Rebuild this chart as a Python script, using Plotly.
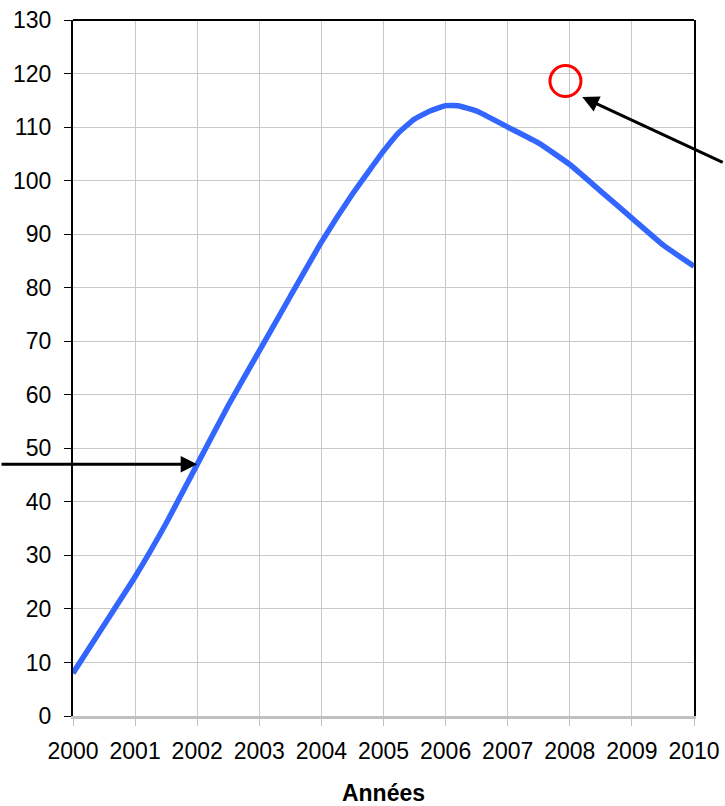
import plotly.graph_objects as go

years = [2000, 2000.5, 2001, 2001.5, 2002, 2002.5, 2003, 2003.5, 2004, 2004.5,
         2005, 2005.25, 2005.5, 2005.75, 2006, 2006.2, 2006.5, 2007, 2007.5,
         2008, 2008.5, 2009, 2009.5, 2010]
values = [8, 17, 26, 36, 47, 58, 68.2, 78.4, 88.5, 97.5,
          105.5, 109, 111.5, 113, 114, 114, 113, 110, 107,
          103, 98, 93, 88, 84]

circle_x = [2007.93]
circle_y = [118.6]

x_ticks = list(range(2000, 2011))
y_ticks = list(range(0, 131, 10))

fig = go.Figure()
fig.add_trace(go.Scatter(x=years, y=values, mode="lines",
                         line=dict(color="#3366ff", width=5.5, shape="spline", smoothing=0.4),
                         showlegend=False, hoverinfo="skip"))
fig.add_trace(go.Scatter(x=circle_x, y=circle_y, mode="markers",
                         marker=dict(size=31, color="rgba(0,0,0,0)",
                                     line=dict(color="#ff0000", width=3)),
                         showlegend=False, cliponaxis=False, hoverinfo="skip"))

fig.add_annotation(x=2002, y=47, ax=-198, ay=0, axref="pixel", ayref="pixel",
                   showarrow=True, arrowhead=2, arrowsize=1.1, arrowwidth=3,
                   arrowcolor="#000000", text="")
fig.add_annotation(x=2008.2, y=115.6, ax=142, ay=66, axref="pixel", ayref="pixel",
                   showarrow=True, arrowhead=2, arrowsize=1.1, arrowwidth=3,
                   arrowcolor="#000000", text="")

fig.add_shape(type="line", xref="paper", yref="paper", x0=0, x1=1, y0=1, y1=1,
              line=dict(color="#000000", width=2))

font = dict(family="Liberation Sans, Arial, sans-serif", size=23, color="#000000")

fig.update_layout(
    width=725, height=806,
    margin=dict(l=73, r=31, t=20, b=90),
    plot_bgcolor="#ffffff", paper_bgcolor="#ffffff",
    font=font,
    xaxis=dict(range=[2000, 2010], tickvals=x_ticks, ticktext=[str(t) for t in x_ticks],
               showgrid=True, gridcolor="#c8c8c8", gridwidth=1,
               showline=True, linecolor="#c0c0c0", linewidth=3,
               ticks="outside", ticklen=7, tickcolor="#c0c0c0", tickwidth=1,
               ticklabelstandoff=5, automargin=False,
               title=dict(text="<b>Années</b>", standoff=24, font=font),
               zeroline=False, fixedrange=True),
    yaxis=dict(range=[0, 130], tickvals=y_ticks,
               showgrid=True, gridcolor="#c8c8c8", gridwidth=1,
               showline=True, linecolor="#000000", linewidth=2, mirror=True,
               ticks="outside", ticklen=7, tickcolor="#000000", tickwidth=1,
               ticklabelstandoff=8, automargin=False,
               zeroline=False, fixedrange=True),
)

fig.write_html("out.html", config={"displayModeBar": False},
               post_script="document.body.style.margin='0';document.body.style.overflow='hidden';")
